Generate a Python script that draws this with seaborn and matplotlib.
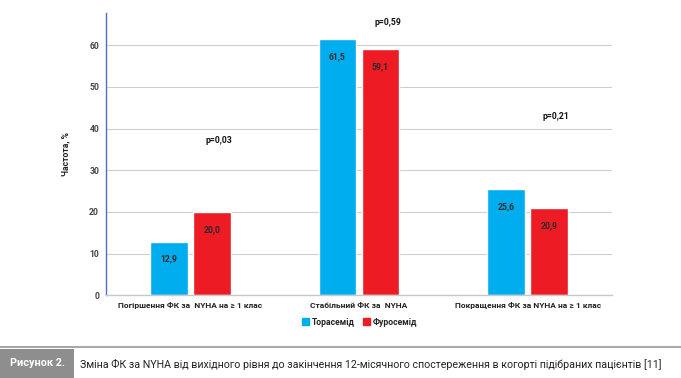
import pandas as pd
import numpy as np
import matplotlib
matplotlib.use("Agg")
import matplotlib.pyplot as plt
import matplotlib.patches as mpatches
import matplotlib.lines as mlines
import seaborn as sns

# data
categories = ["Погіршення ФК за  NYHA на ≥ 1 клас",
              "Стабільний ФК за  NYHA",
              "Покращення ФК за NYHA на ≥ 1 клас"]
torasemide = [12.9, 61.5, 25.6]
furosemide = [20.0, 59.1, 20.9]
series_names = ["Торасемід", "Фуросемід"]
p_values = ["p=0,03", "p=0,59", "p=0,21"]
p_heights = [37.2, 65.5, 42.8]

df = pd.DataFrame({
    "cat": categories * 2,
    "value": torasemide + furosemide,
    "drug": [series_names[0]] * 3 + [series_names[1]] * 3,
})

sns.set_style("white")
plt.rcParams['font.family'] = ['Roboto', 'DejaVu Sans']

BLUE = "#00aeef"
RED = "#ed1c24"

fig = plt.figure(figsize=(6.81, 3.78), dpi=100)
ax = fig.add_axes([0.1557, 0.2188, 0.743, 0.7468])

sns.barplot(data=df, x="cat", y="value", hue="drug", palette=[BLUE, RED],
            width=0.51, gap=0.12, ax=ax, legend=False, saturation=1)

ax.set_xlim(-0.5, 2.5)
ax.set_ylim(0, 67.7)
ax.set_yticks([0, 10, 20, 30, 40, 50, 60])
ax.yaxis.grid(True, color="#cfcfcf", lw=0.8)
ax.set_axisbelow(True)
for s in ["top", "right"]:
    ax.spines[s].set_visible(False)
ax.spines["left"].set_color("#4a6fd0")
ax.spines["left"].set_linewidth(1.0)
ax.spines["bottom"].set_color("#c8c8c8")
ax.spines["bottom"].set_linewidth(1.0)
ax.tick_params(axis="y", length=3, color="#4a6fd0", labelsize=6.2,
               labelcolor="#444444", pad=2)
ax.tick_params(axis="x", length=0, labelsize=6, labelcolor="#222222", pad=5)
for t in ax.get_yticklabels() + ax.get_xticklabels():
    t.set_fontweight("bold")
ax.set_xlabel("")
ax.set_ylabel("Частота, %", fontsize=6.2, fontweight="bold", labelpad=14)

# value labels inside bars
for cont in ax.containers:
    ax.bar_label(cont, labels=[f"{v:.1f}".replace(".", ",") for v in cont.datavalues],
                 padding=-16, fontsize=6.2, fontweight="bold", color="#2a2a2a")

# p-values
for i, (p, h) in enumerate(zip(p_values, p_heights)):
    ax.text(i + 0.17, h, p, ha="center", va="center", fontsize=6.2,
            fontweight="bold", color="#111111")

# legend
handles = [mpatches.Patch(color=BLUE, label=series_names[0]),
           mpatches.Patch(color=RED, label=series_names[1])]
leg = fig.legend(handles=handles, loc="center", bbox_to_anchor=(0.528, 0.148),
                 ncol=2, frameon=False, fontsize=6.2, handlelength=0.8,
                 handleheight=0.8, handletextpad=0.3, columnspacing=1.0)
for t in leg.get_texts():
    t.set_fontweight("bold")

# caption block
fig.add_artist(mlines.Line2D([0, 1], [1 - 347 / 378] * 2, transform=fig.transFigure,
                             color="#a8a8a8", lw=1.5))
fig.add_artist(mpatches.Rectangle((0, 0), 74 / 681, 1 - 349 / 378,
                                  transform=fig.transFigure, color="#8e8e8e", lw=0))
fig.text(37 / 681, 1 - 363 / 378, "Рисунок 2.", ha="center", va="center",
         color="white", fontsize=7.8, fontweight="bold")
fig.text(80 / 681, 1 - 364 / 378,
         "Зміна ФК за NYHA від вихідного рівня до закінчення 12-місячного спостереження в когорті підібраних пацієнтів [11]",
         ha="left", va="center", color="#222222", fontsize=7.7)

fig.savefig("out.png", dpi=100)
